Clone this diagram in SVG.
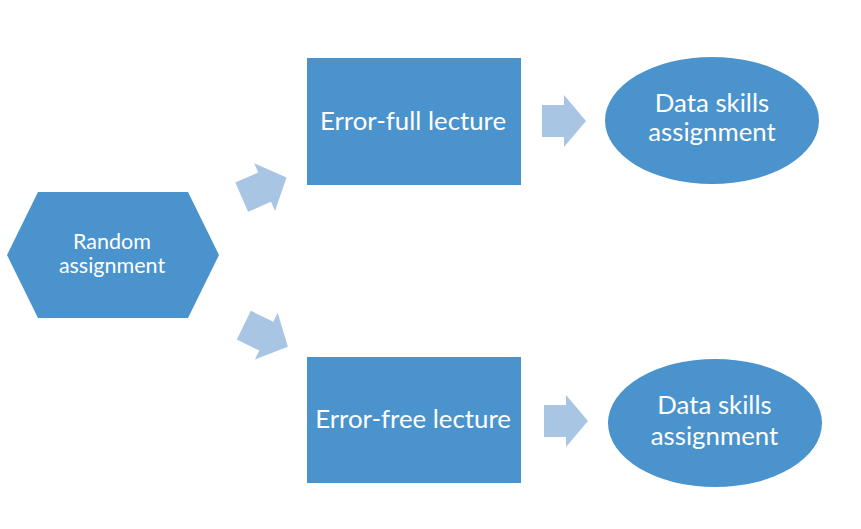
<svg xmlns="http://www.w3.org/2000/svg" width="861" height="529" viewBox="0 0 861 529">
<style>
.node{fill:#4A93CD}
.arrow{fill:#A9C5E4}
text{font-family:Lato,"Open Sans","Liberation Sans",sans-serif;fill:#FFFFFF;text-anchor:middle}
.big{font-size:25.8px}
.mid{font-size:25.8px}
.small{font-size:21.5px}
</style>
<defs>
<polygon id="harrow" points="-22,-16 0,-16 0,-26 22,0 0,26 0,16 -22,16"/>
<polygon id="darrow" points="-25,-16 0,-16 0,-26 24,0 0,26 0,16 -25,16"/>
</defs>
<rect width="861" height="529" fill="#FFFFFF"/>
<g id="connectors">
<use href="#darrow" class="arrow" transform="translate(264.6,187.2) rotate(-23.6)"/>
<use href="#darrow" class="arrow" transform="translate(266.3,336.2) rotate(26)"/>
<use href="#harrow" class="arrow" transform="translate(564,121)"/>
<use href="#harrow" class="arrow" transform="translate(566,421)"/>
</g>
<g id="random">
<polygon class="node" points="38,192 188,192 219,255 188,318 38,318 7,255"/>
<text class="small" x="112" y="249">Random</text>
<text class="small" x="112" y="273">assignment</text>
</g>
<g id="errorfull">
<rect class="node" x="307" y="58" width="214" height="127"/>
<text class="big" x="413" y="130">Error-full lecture</text>
</g>
<g id="errorfree">
<rect class="node" x="307" y="357" width="214" height="126"/>
<text class="big" x="413" y="428">Error-free lecture</text>
</g>
<g id="data1">
<ellipse class="node" cx="712" cy="120.5" rx="107" ry="63.5"/>
<text class="mid" x="712" y="112">Data skills</text>
<text class="mid" x="712" y="141">assignment</text>
</g>
<g id="data2">
<ellipse class="node" cx="715" cy="423" rx="107" ry="64"/>
<text class="mid" x="714.5" y="413.5">Data skills</text>
<text class="mid" x="714.5" y="445">assignment</text>
</g>
</svg>
